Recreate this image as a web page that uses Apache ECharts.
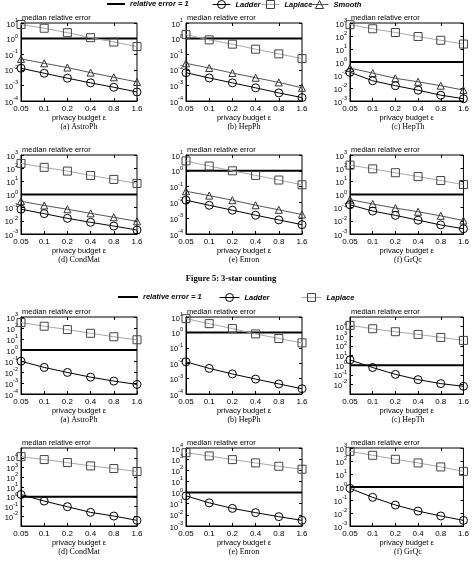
<!DOCTYPE html>
<html>
<head>
<meta charset="utf-8">
<script src="https://cdn.jsdelivr.net/npm/echarts@6/dist/echarts.min.js"></script>
<style>
html,body{margin:0;padding:0;background:#fff;}
#c{width:472px;height:564px;}
</style>
</head>
<body>
<div id="c"></div>
<script>
// ---------- DATA ----------
const epsilons = ['0.05', '0.1', '0.2', '0.4', '0.8', '1.6'];
const datasets = ['AstroPh', 'HepPh', 'HepTh', 'CondMat', 'Enron', 'GrQc'];
const panelLetters = ['(a)', '(b)', '(c)', '(d)', '(e)', '(f)'];
const thresholdValue = 1;
const figureTitle = 'Figure 5: 3-star counting';

// Figure 5: 3-star counting
const f5AstroPhLadder  = [0.0126, 0.006, 0.0029, 0.00145, 0.00076, 0.00038];
const f5AstroPhLaplace = [8, 4.6, 2.4, 1.15, 0.6, 0.31];
const f5AstroPhSmooth  = [0.05, 0.026, 0.014, 0.0066, 0.0033, 0.00166];

const f5HepPhLadder  = [0.0065, 0.003, 0.00146, 0.0007, 0.00033, 0.000165];
const f5HepPhLaplace = [1.8, 0.83, 0.44, 0.21, 0.105, 0.052];
const f5HepPhSmooth  = [0.026, 0.013, 0.0062, 0.0031, 0.00155, 0.0007];

const f5HepThLadder  = [0.16, 0.036, 0.015, 0.0068, 0.0028, 0.0015];
const f5HepThLaplace = [740, 360, 186, 91, 47, 24];
const f5HepThSmooth  = [0.34, 0.14, 0.056, 0.03, 0.015, 0.0069];

const f5CondMatLadder  = [0.076, 0.035, 0.0155, 0.0077, 0.004, 0.002];
const f5CondMatLaplace = [230, 115, 60, 28, 14, 6.9];
const f5CondMatSmooth  = [0.31, 0.145, 0.076, 0.037, 0.0186, 0.0091];

const f5EnronLadder  = [0.0138, 0.0066, 0.0032, 0.00155, 0.00078, 0.00039];
const f5EnronLaplace = [4.2, 2.0, 1.0, 0.51, 0.26, 0.13];
const f5EnronSmooth  = [0.051, 0.027, 0.0138, 0.0066, 0.0034, 0.0017];

const f5GrQcLadder  = [0.166, 0.055, 0.026, 0.0112, 0.0049, 0.0025];
const f5GrQcLaplace = [170, 89, 45, 23, 11.5, 5.7];
const f5GrQcSmooth  = [0.41, 0.19, 0.093, 0.049, 0.024, 0.0105];

// second figure (Ladder vs Laplace)
const f6AstroPhLadder  = [0.095, 0.026, 0.0091, 0.0034, 0.0015, 0.00074];
const f6AstroPhLaplace = [310, 145, 72, 33, 16, 8.5];
const f6HepPhLadder    = [0.0123, 0.0046, 0.002, 0.00093, 0.00045, 0.00022];
const f6HepPhLaplace   = [7.8, 3.7, 1.77, 0.8, 0.4, 0.21];
const f6HepThLadder    = [3.5, 0.56, 0.11, 0.031, 0.012, 0.0063];
const f6HepThLaplace   = [13500, 6000, 2950, 1550, 760, 370];
const f6CondMatLadder  = [1.7, 0.36, 0.095, 0.025, 0.0105, 0.0038];
const f6CondMatLaplace = [13000, 6500, 3200, 1450, 780, 390];
const f6EnronLadder    = [0.51, 0.12, 0.038, 0.0158, 0.0069, 0.0032];
const f6EnronLaplace   = [3800, 1940, 910, 460, 230, 125];
const f6GrQcLadder     = [0.78, 0.16, 0.041, 0.014, 0.0059, 0.0027];
const f6GrQcLaplace    = [550, 275, 135, 71, 35, 16];

// y-axis decade ranges (exponents of 10) per panel
const f5YRange = [[-4, 1], [-4, 1], [-3, 3], [-3, 3], [-4, 1], [-3, 3]];
const f6YRange = [[-4, 3], [-4, 1], [-3, 5], [-3, 5], [-3, 4], [-3, 3]];

const f5Ladder  = [f5AstroPhLadder, f5HepPhLadder, f5HepThLadder, f5CondMatLadder, f5EnronLadder, f5GrQcLadder];
const f5Laplace = [f5AstroPhLaplace, f5HepPhLaplace, f5HepThLaplace, f5CondMatLaplace, f5EnronLaplace, f5GrQcLaplace];
const f5Smooth  = [f5AstroPhSmooth, f5HepPhSmooth, f5HepThSmooth, f5CondMatSmooth, f5EnronSmooth, f5GrQcSmooth];
const f6Ladder  = [f6AstroPhLadder, f6HepPhLadder, f6HepThLadder, f6CondMatLadder, f6EnronLadder, f6GrQcLadder];
const f6Laplace = [f6AstroPhLaplace, f6HepPhLaplace, f6HepThLaplace, f6CondMatLaplace, f6EnronLaplace, f6GrQcLaplace];

// ---------- LAYOUT ----------
const colLeft = [21, 186, 350];
const plotW = 116;
const rowTop = [23, 155, 317, 448];
const rowH = [78, 79, 77, 78];

const SANS = '"Liberation Sans", Arial, sans-serif';
const SERIF = '"Liberation Serif", "Times New Roman", serif';

const grids = [], xAxes = [], yAxes = [], series = [], graphics = [];

function addPanel(fig, i, yr, ladder, laplace, smooth) {
  const k = fig * 6 + i;
  const row = fig * 2 + Math.floor(i / 3);
  const col = i % 3;
  const left = colLeft[col], top = rowTop[row], h = rowH[row];
  grids.push({left: left, top: top, width: plotW, height: h, show: true,
    borderColor: '#000', borderWidth: 1, backgroundColor: 'transparent'});
  const ymin = Math.pow(10, yr[0]), ymax = Math.pow(10, yr[1]);
  xAxes.push({
    type: 'category', gridIndex: k, data: epsilons, boundaryGap: false, position: 'bottom',
    axisLine: {show: true, lineStyle: {color: '#000', width: 1}},
    axisTick: {show: true, inside: true, length: 3, lineStyle: {color: '#000'}},
    axisLabel: {color: '#000', fontFamily: SANS, fontSize: 8, margin: 4},
    splitLine: {show: false},
    name: 'privacy budget ε', nameLocation: 'middle', nameGap: 12,
    nameTextStyle: {color: '#000', fontFamily: SANS, fontSize: 7.5, verticalAlign: 'top'}
  });
  xAxes.push({
    type: 'category', gridIndex: k, data: epsilons, boundaryGap: false, position: 'top',
    axisLine: {show: false},
    axisTick: {show: true, inside: true, length: 3, lineStyle: {color: '#000'}},
    axisLabel: {show: false}, splitLine: {show: false}
  });
  yAxes.push({
    type: 'log', logBase: 10, gridIndex: k, min: ymin, max: ymax, interval: 1, position: 'left',
    axisLine: {show: true, lineStyle: {color: '#000', width: 1}},
    axisTick: {show: true, inside: true, length: 3, lineStyle: {color: '#000'}},
    splitLine: {show: false},
    axisLabel: {
      margin: 3, color: '#000',
      formatter: function (v) {
        const e = Math.round(Math.log10(v));
        return '{b|10}{s|' + e + '}';
      },
      rich: {
        b: {fontFamily: SANS, fontSize: 7.5, color: '#000', verticalAlign: 'bottom', padding: [3, 0, 0, 0]},
        s: {fontFamily: SANS, fontSize: 5.5, color: '#000', verticalAlign: 'top'}
      }
    },
    name: 'median relative error', nameLocation: 'end', nameGap: 1,
    nameTextStyle: {color: '#000', fontFamily: SANS, fontSize: 7.5, align: 'left', verticalAlign: 'bottom', padding: [0, 0, 0, 1]}
  });
  yAxes.push({
    type: 'log', logBase: 10, gridIndex: k, min: ymin, max: ymax, interval: 1, position: 'right',
    axisLine: {show: false},
    axisTick: {show: true, inside: true, length: 3, lineStyle: {color: '#000'}},
    axisLabel: {show: false}, splitLine: {show: false}
  });
  const xi = 2 * k, yi = 2 * k;
  series.push({
    name: 'relative error = 1', type: 'line', xAxisIndex: xi, yAxisIndex: yi,
    data: epsilons.map(() => thresholdValue), symbol: 'none',
    lineStyle: {color: '#000', width: 2}, itemStyle: {color: 'rgba(0,0,0,0)', borderWidth: 0}, z: 2, silent: true
  });
  series.push({
    name: 'Laplace', type: 'line', xAxisIndex: xi, yAxisIndex: yi, data: laplace,
    symbol: 'rect', symbolSize: 8,
    lineStyle: {color: '#a8a8a8', width: 1},
    itemStyle: {color: 'rgba(255,255,255,0)', borderColor: '#444', borderWidth: 1}, z: 3, silent: true
  });
  if (smooth) {
    series.push({
      name: 'Smooth', type: 'line', xAxisIndex: xi, yAxisIndex: yi, data: smooth,
      symbol: 'triangle', symbolSize: 7,
      lineStyle: {color: '#555', width: 1},
      itemStyle: {color: 'rgba(255,255,255,0)', borderColor: '#333', borderWidth: 1}, z: 3, silent: true
    });
  }
  series.push({
    name: 'Ladder', type: 'line', xAxisIndex: xi, yAxisIndex: yi, data: ladder,
    symbol: 'circle', symbolSize: 8,
    lineStyle: {color: '#000', width: 1},
    itemStyle: {color: 'rgba(255,255,255,0)', borderColor: '#000', borderWidth: 1}, z: 4, silent: true
  });
  graphics.push({
    type: 'text', x: left + plotW / 2, y: top + h + 22,
    style: {text: panelLetters[i] + ' ' + datasets[i], font: '8px ' + SERIF, fill: '#000', textAlign: 'center'}
  });
}

for (let i = 0; i < 6; i++) addPanel(0, i, f5YRange[i], f5Ladder[i], f5Laplace[i], f5Smooth[i]);
for (let i = 0; i < 6; i++) addPanel(1, i, f6YRange[i], f6Ladder[i], f6Laplace[i], null);

graphics.push({
  type: 'text', x: 231, y: 274,
  style: {text: figureTitle, font: 'bold 8.5px ' + SERIF, fill: '#000', textAlign: 'center'}
});

// one legend component per entry so each sits where the reference places it
const legendNames1 = ['relative error = 1', 'Ladder', 'Laplace', 'Smooth'];
const legendLeft1 = [106, 212, 261, 310];
const legendNames2 = ['relative error = 1', 'Ladder', 'Laplace'];
const legendLeft2 = [117, 219, 301];

function legendItem(name, left, top, w) {
  return {
    orient: 'horizontal', left: left, top: top, padding: 0,
    itemWidth: w, itemHeight: 10, itemGap: 0, selectedMode: false,
    textStyle: {fontFamily: SANS, fontSize: 7.5, fontWeight: 'bold', fontStyle: 'italic', color: '#000'},
    lineStyle: {width: 'inherit'},
    itemStyle: {borderWidth: 'inherit'},
    data: [name]
  };
}
const legends = [];
legendNames1.forEach((n, j) => legends.push(legendItem(n, legendLeft1[j], 0, 18)));
legendNames2.forEach((n, j) => legends.push(legendItem(n, legendLeft2[j], 293, 20)));

const option = {
  animation: false,
  backgroundColor: '#fff',
  grid: grids, xAxis: xAxes, yAxis: yAxes, series: series,
  legend: legends,
  graphic: graphics
};

const chart = echarts.init(document.getElementById('c'), null, {renderer: 'canvas'});
chart.setOption(option);
</script>
</body>
</html>
